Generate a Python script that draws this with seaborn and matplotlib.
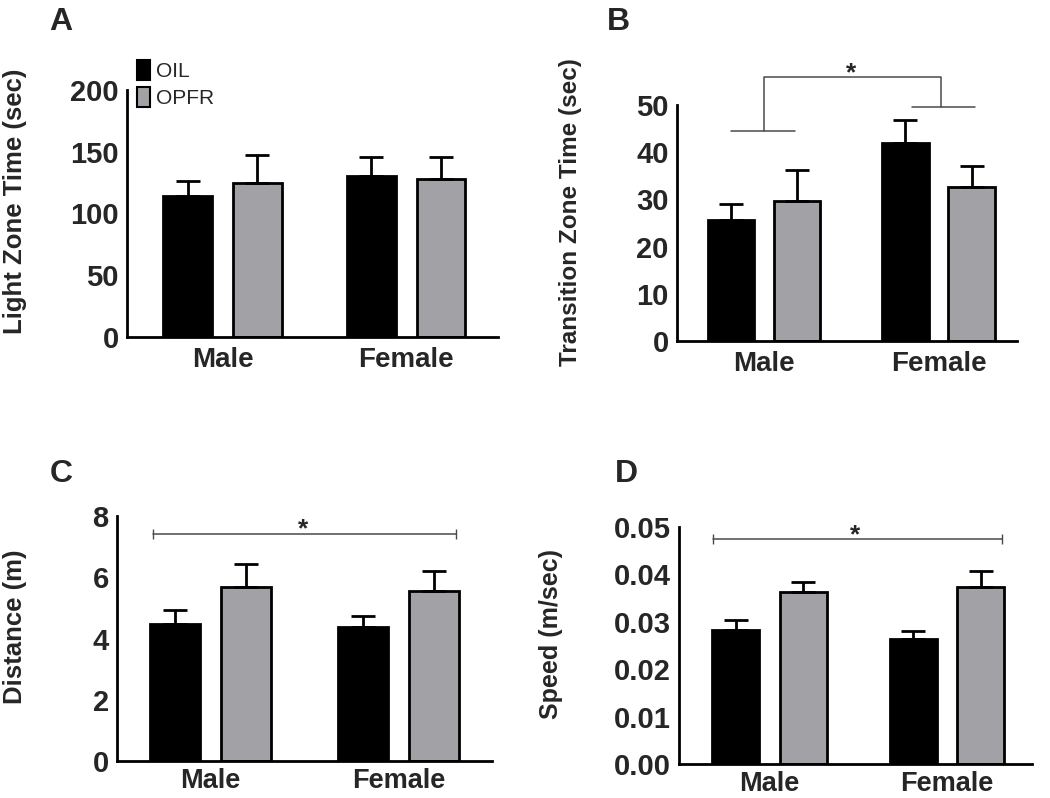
import numpy as np
import pandas as pd
import matplotlib
matplotlib.use("Agg")
import matplotlib.pyplot as plt
import seaborn as sns
from matplotlib.patches import Patch

sns.set_style("white")
plt.rcParams['font.family'] = ['Liberation Sans', 'DejaVu Sans']

# ---------------- data ----------------
sexes = ["Male", "Female"]
treatments = ["OIL", "OPFR"]

light_mean = {"OIL": [114, 130], "OPFR": [125, 128]}
light_sem = {"OIL": [12, 16], "OPFR": [22, 17.5]}

trans_mean = {"OIL": [25.6, 42.0], "OPFR": [29.6, 32.7]}
trans_sem = {"OIL": [3.5, 4.8], "OPFR": [6.6, 4.4]}

dist_mean = {"OIL": [4.48, 4.36], "OPFR": [5.67, 5.55]}
dist_sem = {"OIL": [0.44, 0.39], "OPFR": [0.75, 0.66]}

speed_mean = {"OIL": [0.0282, 0.0264], "OPFR": [0.0362, 0.0374]}
speed_sem = {"OIL": [0.0022, 0.0016], "OPFR": [0.0023, 0.0034]}

ylabels = ["Light Zone Time (sec)", "Transition Zone Time (sec)", "Distance (m)", "Speed (m/sec)"]
panel_letters = ["A", "B", "C", "D"]
yticks_list = [[0, 50, 100, 150, 200], [0, 10, 20, 30, 40, 50], [0, 2, 4, 6, 8],
               [0.00, 0.01, 0.02, 0.03, 0.04, 0.05]]

GRAY = "#a2a2a6"
palette = {"OIL": "black", "OPFR": GRAY}

W, H = 1050, 798
fig = plt.figure(figsize=(W / 100, H / 100), dpi=100)

def px_axes(l, t, r, b):
    return fig.add_axes([l / W, 1 - b / H, (r - l) / W, (b - t) / H])

axes = [px_axes(127, 90, 498, 337), px_axes(677, 105, 1017, 341),
        px_axes(117, 516, 492, 761), px_axes(679, 527, 1032, 764)]
xlims = [(-0.52, 1.5), (-0.50, 1.45), (-0.50, 1.50), (-0.51, 1.48)]
ylabel_sizes = [18.5, 17.5, 18.5, 18]

datasets = [(light_mean, light_sem), (trans_mean, trans_sem),
            (dist_mean, dist_sem), (speed_mean, speed_sem)]

for i, (ax, (means, sems)) in enumerate(zip(axes, datasets)):
    rows = []
    for t in treatments:
        for s, v in zip(sexes, means[t]):
            rows.append({"sex": s, "treatment": t, "value": v})
    df = pd.DataFrame(rows)
    sns.barplot(data=df, x="sex", y="value", hue="treatment", order=sexes,
                hue_order=treatments, palette=palette, edgecolor="black",
                linewidth=2.0, errorbar=None, width=0.76, gap=0.3, ax=ax,
                legend=False, saturation=1)
    for t, cont in zip(treatments, ax.containers):
        for bar, err in zip(cont, sems[t]):
            xc = bar.get_x() + bar.get_width() / 2
            ax.errorbar(xc, bar.get_height(), yerr=[[0], [err]], fmt="none",
                        ecolor="black", elinewidth=2.0, capsize=8.5, capthick=2.0,
                        zorder=1)
    yt = yticks_list[i]
    ax.set_ylim(0, yt[-1])
    ax.set_xlim(*xlims[i])
    ax.set_yticks(yt)
    if i == 3:
        ax.set_yticklabels([f"{v:.2f}" for v in yt])
    ax.set_xlabel("")
    ax.set_ylabel(ylabels[i], fontsize=ylabel_sizes[i], fontweight="bold")
    for sp in ["top", "right"]:
        ax.spines[sp].set_visible(False)
    for sp in ["left", "bottom"]:
        ax.spines[sp].set_linewidth(2.0)
        ax.spines[sp].set_color("black")
    ax.tick_params(axis="both", direction="out", width=2.0, length=5, color="black")
    ax.tick_params(axis="y", pad=1, labelsize=21)
    ax.tick_params(axis="x", pad=(2 if i < 2 else 0), labelsize=(20 if i < 2 else 19.5))
    for lab in ax.get_xticklabels() + ax.get_yticklabels():
        lab.set_fontweight("bold")

# y-label positions
axes[0].yaxis.set_label_coords(-0.27, 0.55)
axes[1].yaxis.set_label_coords(-0.28, 0.547)
axes[2].yaxis.set_label_coords(-0.24, 0.55)
axes[3].yaxis.set_label_coords(-0.33, 0.55)

# panel letters
letter_pos = [(61, 22), (618, 22), (61, 474), (626, 474)]
for L, (x, y) in zip(panel_letters, letter_pos):
    fig.text(x / W, 1 - y / H, L, fontsize=23, fontweight="bold", ha="center", va="center")

# legend in panel A
handles = [Patch(facecolor=palette[t], edgecolor="black", linewidth=1.5) for t in treatments]
axes[0].legend(handles, treatments, loc="upper left", bbox_to_anchor=(137 / W, 1 - 60 / H),
               bbox_transform=fig.transFigure, frameon=False, fontsize=15,
               handlelength=0.62, handleheight=1.1, handletextpad=0.3, labelspacing=0.3,
               borderpad=0, borderaxespad=0)

LC = "#4a4a4a"
LW = 1.1
# panel B bracket
axB = axes[1]
axB.plot([-0.19, 0.175], [44.5, 44.5], color=LC, lw=LW, clip_on=False)
axB.plot([0.85, 1.21], [49.5, 49.5], color=LC, lw=LW, clip_on=False)
axB.plot([0.0, 0.0, 1.015, 1.015], [44.5, 55.9, 55.9, 49.5], color=LC, lw=LW, clip_on=False)
axB.text(0.50, 54.1, "*", ha="center", va="bottom", fontsize=19, fontweight="bold", clip_on=False)

# panel C line
axC = axes[2]
axC.plot([-0.31, 1.31], [7.41, 7.41], color=LC, lw=LW, marker="|", markersize=7, clip_on=False)
axC.text(0.49, 7.16, "*", ha="center", va="bottom", fontsize=19, fontweight="bold")

# panel D line
axD = axes[3]
axD.plot([-0.32, 1.31], [0.0474, 0.0474], color=LC, lw=LW, marker="|", markersize=7, clip_on=False)
axD.text(0.48, 0.0458, "*", ha="center", va="bottom", fontsize=19, fontweight="bold", clip_on=False)

fig.savefig("out.png", dpi=100)
